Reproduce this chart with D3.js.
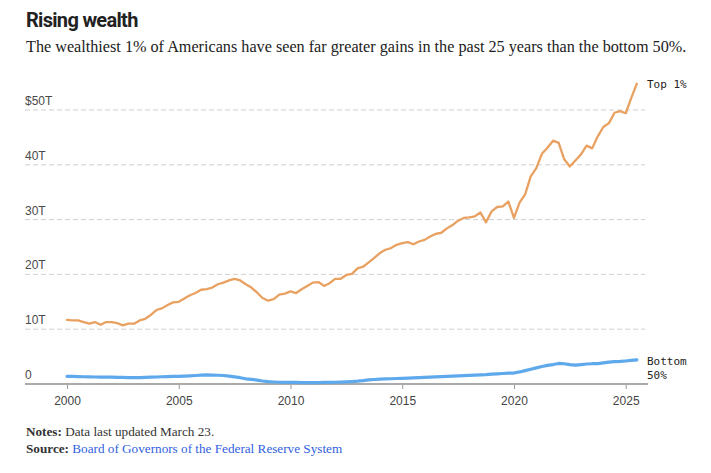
<!DOCTYPE html>
<html>
<head>
<meta charset="utf-8">
<script src="https://cdn.jsdelivr.net/npm/d3@7"></script>
<style>
  body { margin: 0; background: #fff; }
  svg { display: block; }
</style>
</head>
<body>
<svg id="chart" width="711" height="473"></svg>
<script>
// ---- Data (quarterly, 2000 Q1 – 2025 Q3, trillions of dollars) ----
const startYear = 2000;
const top1 = [
  11.7, 11.6, 11.6, 11.3,
  11.0, 11.3, 10.8, 11.3,
  11.3, 11.1, 10.7, 11.0,
  11.0, 11.6, 11.9, 12.6,
  13.5, 13.8, 14.4, 14.9,
  15.0, 15.6, 16.2, 16.6,
  17.2, 17.3, 17.6, 18.2,
  18.5, 18.9, 19.2, 18.9,
  18.2, 17.6, 16.7, 15.7,
  15.2, 15.5, 16.3, 16.5,
  16.9, 16.6, 17.3, 17.9,
  18.5, 18.6, 17.9, 18.4,
  19.2, 19.2, 19.9, 20.1,
  21.1, 21.4, 22.2, 23.0,
  23.9, 24.5, 24.8, 25.4,
  25.7, 25.9, 25.5, 26.0,
  26.3, 26.9, 27.4, 27.6,
  28.4, 29.0, 29.8, 30.3,
  30.4, 30.6, 31.3, 29.5,
  31.5, 32.3, 32.4, 33.3,
  30.3, 33.1, 34.6, 37.9,
  39.4, 42.0, 43.1, 44.4,
  44.0, 41.0, 39.7, 40.8,
  41.9, 43.5, 43.0, 45.2,
  46.9, 47.6, 49.5, 49.8,
  49.4, 52.2, 54.8
];
const bottom50 = [
  1.40, 1.38, 1.35, 1.32,
  1.30, 1.28, 1.27, 1.25,
  1.24, 1.22, 1.20, 1.18,
  1.16, 1.18, 1.20, 1.24,
  1.28, 1.32, 1.35, 1.38,
  1.40, 1.45, 1.50, 1.55,
  1.62, 1.65, 1.63, 1.60,
  1.55, 1.45, 1.30, 1.15,
  0.95, 0.85, 0.72, 0.55,
  0.42, 0.36, 0.32, 0.30,
  0.30, 0.28, 0.26, 0.25,
  0.25, 0.26, 0.28, 0.30,
  0.32, 0.36, 0.40, 0.45,
  0.52, 0.62, 0.75, 0.82,
  0.88, 0.92, 0.96, 1.00,
  1.04, 1.08, 1.12, 1.16,
  1.20, 1.25, 1.30, 1.34,
  1.38, 1.43, 1.48, 1.54,
  1.58, 1.62, 1.68, 1.72,
  1.80, 1.86, 1.92, 1.98,
  2.00, 2.20, 2.45, 2.70,
  2.95, 3.20, 3.40, 3.55,
  3.75, 3.70, 3.55, 3.45,
  3.55, 3.65, 3.70, 3.72,
  3.85, 4.00, 4.08, 4.12,
  4.20, 4.30, 4.40
];
const yTicks = [0, 10, 20, 30, 40, 50];
const yTickLabels = ["0", "10T", "20T", "30T", "40T", "$50T"];
const xTicks = [2000, 2005, 2010, 2015, 2020, 2025];
const seriesLabels = { top: ["Top 1%"], bottom: ["Bottom", "50%"] };
const title = "Rising wealth";
const subtitle = "The wealthiest 1% of Americans have seen far greater gains in the past 25 years than the bottom 50%.";
const notes = "Data last updated March 23.";
const source = "Board of Governors of the Federal Reserve System";

// ---- Layout ----
const svg = d3.select("#chart");
const x = d3.scaleLinear().domain([2000, 2025]).range([67, 625.7]);
const y = d3.scaleLinear().domain([0, 50]).range([384, 110]);
const left = 25, gridRight = 645, axisRight = 648;

const sans = "'Liberation Sans', Arial, Helvetica, sans-serif";
const serif = "'Liberation Serif', 'Times New Roman', serif";
const mono = "'DejaVu Sans Mono', 'Liberation Mono', monospace";

// Title & subtitle
svg.append("text").attr("x", 26).attr("y", 27)
  .attr("font-family", "Roboto, sans-serif").attr("font-weight", 700)
  .attr("font-size", 20).attr("letter-spacing", -0.7).attr("fill", "#222")
  .text(title);
svg.append("text").attr("x", 26).attr("y", 52)
  .attr("font-family", serif).attr("font-size", 16.2).attr("fill", "#222")
  .text(subtitle);

// Grid
svg.append("g").selectAll("line").data(yTicks.filter(d => d > 0)).join("line")
  .attr("x1", left).attr("x2", gridRight)
  .attr("y1", d => y(d)).attr("y2", d => y(d))
  .attr("stroke", "#cfcfcf").attr("stroke-width", 1)
  .attr("stroke-dasharray", "5,3");

// Y labels
svg.append("g").selectAll("text").data(yTicks).join("text")
  .attr("x", left).attr("y", d => y(d) - 5)
  .attr("font-family", sans).attr("font-size", 12).attr("fill", "#4a4a4a")
  .text((d, i) => yTickLabels[i]);

// X axis
const xAxis = d3.axisBottom(x).tickValues(xTicks).tickFormat(d3.format("d"))
  .tickSize(5).tickSizeOuter(0);
const gx = svg.append("g").attr("transform", `translate(0,${y(0)})`).call(xAxis);
gx.select(".domain").remove();
gx.selectAll(".tick line").attr("stroke", "#999").attr("stroke-width", 1);
gx.selectAll(".tick text").attr("font-family", sans).attr("font-size", 12)
  .attr("fill", "#444").attr("dy", "1.05em");
svg.append("line").attr("x1", left).attr("x2", axisRight)
  .attr("y1", y(0)).attr("y2", y(0)).attr("stroke", "#aaa").attr("stroke-width", 2);

// Lines
const t = (i) => startYear + i * 0.25;
const line = d3.line().x((d, i) => x(t(i))).y(d => y(d)).curve(d3.curveLinear);
svg.append("path").datum(bottom50).attr("d", line)
  .attr("fill", "none").attr("stroke", "#5ea8ec").attr("stroke-width", 3.2)
  .attr("stroke-linejoin", "round").attr("stroke-linecap", "round");
svg.append("path").datum(top1).attr("d", line)
  .attr("fill", "none").attr("stroke", "#e9a162").attr("stroke-width", 2.3)
  .attr("stroke-linejoin", "round").attr("stroke-linecap", "round");

// Series labels
svg.append("text").attr("x", 647).attr("y", 88)
  .attr("font-family", mono).attr("font-size", 11).attr("fill", "#222")
  .text(seriesLabels.top[0]);
const bl = svg.append("text").attr("x", 647).attr("y", 365)
  .attr("font-family", mono).attr("font-size", 11).attr("fill", "#222");
seriesLabels.bottom.forEach((s, i) => {
  bl.append("tspan").attr("x", 647).attr("dy", i === 0 ? 0 : 14).text(s);
});

// Notes & source
const n = svg.append("text").attr("x", 26).attr("y", 436)
  .attr("font-family", serif).attr("font-size", 13.2).attr("fill", "#333");
n.append("tspan").attr("font-weight", 700).text("Notes: ");
n.append("tspan").text(notes);
const s = svg.append("text").attr("x", 26).attr("y", 453)
  .attr("font-family", serif).attr("font-size", 13.2).attr("fill", "#333");
s.append("tspan").attr("font-weight", 700).text("Source: ");
s.append("tspan").attr("fill", "#2f5fe0").text(source);
</script>
</body>
</html>
